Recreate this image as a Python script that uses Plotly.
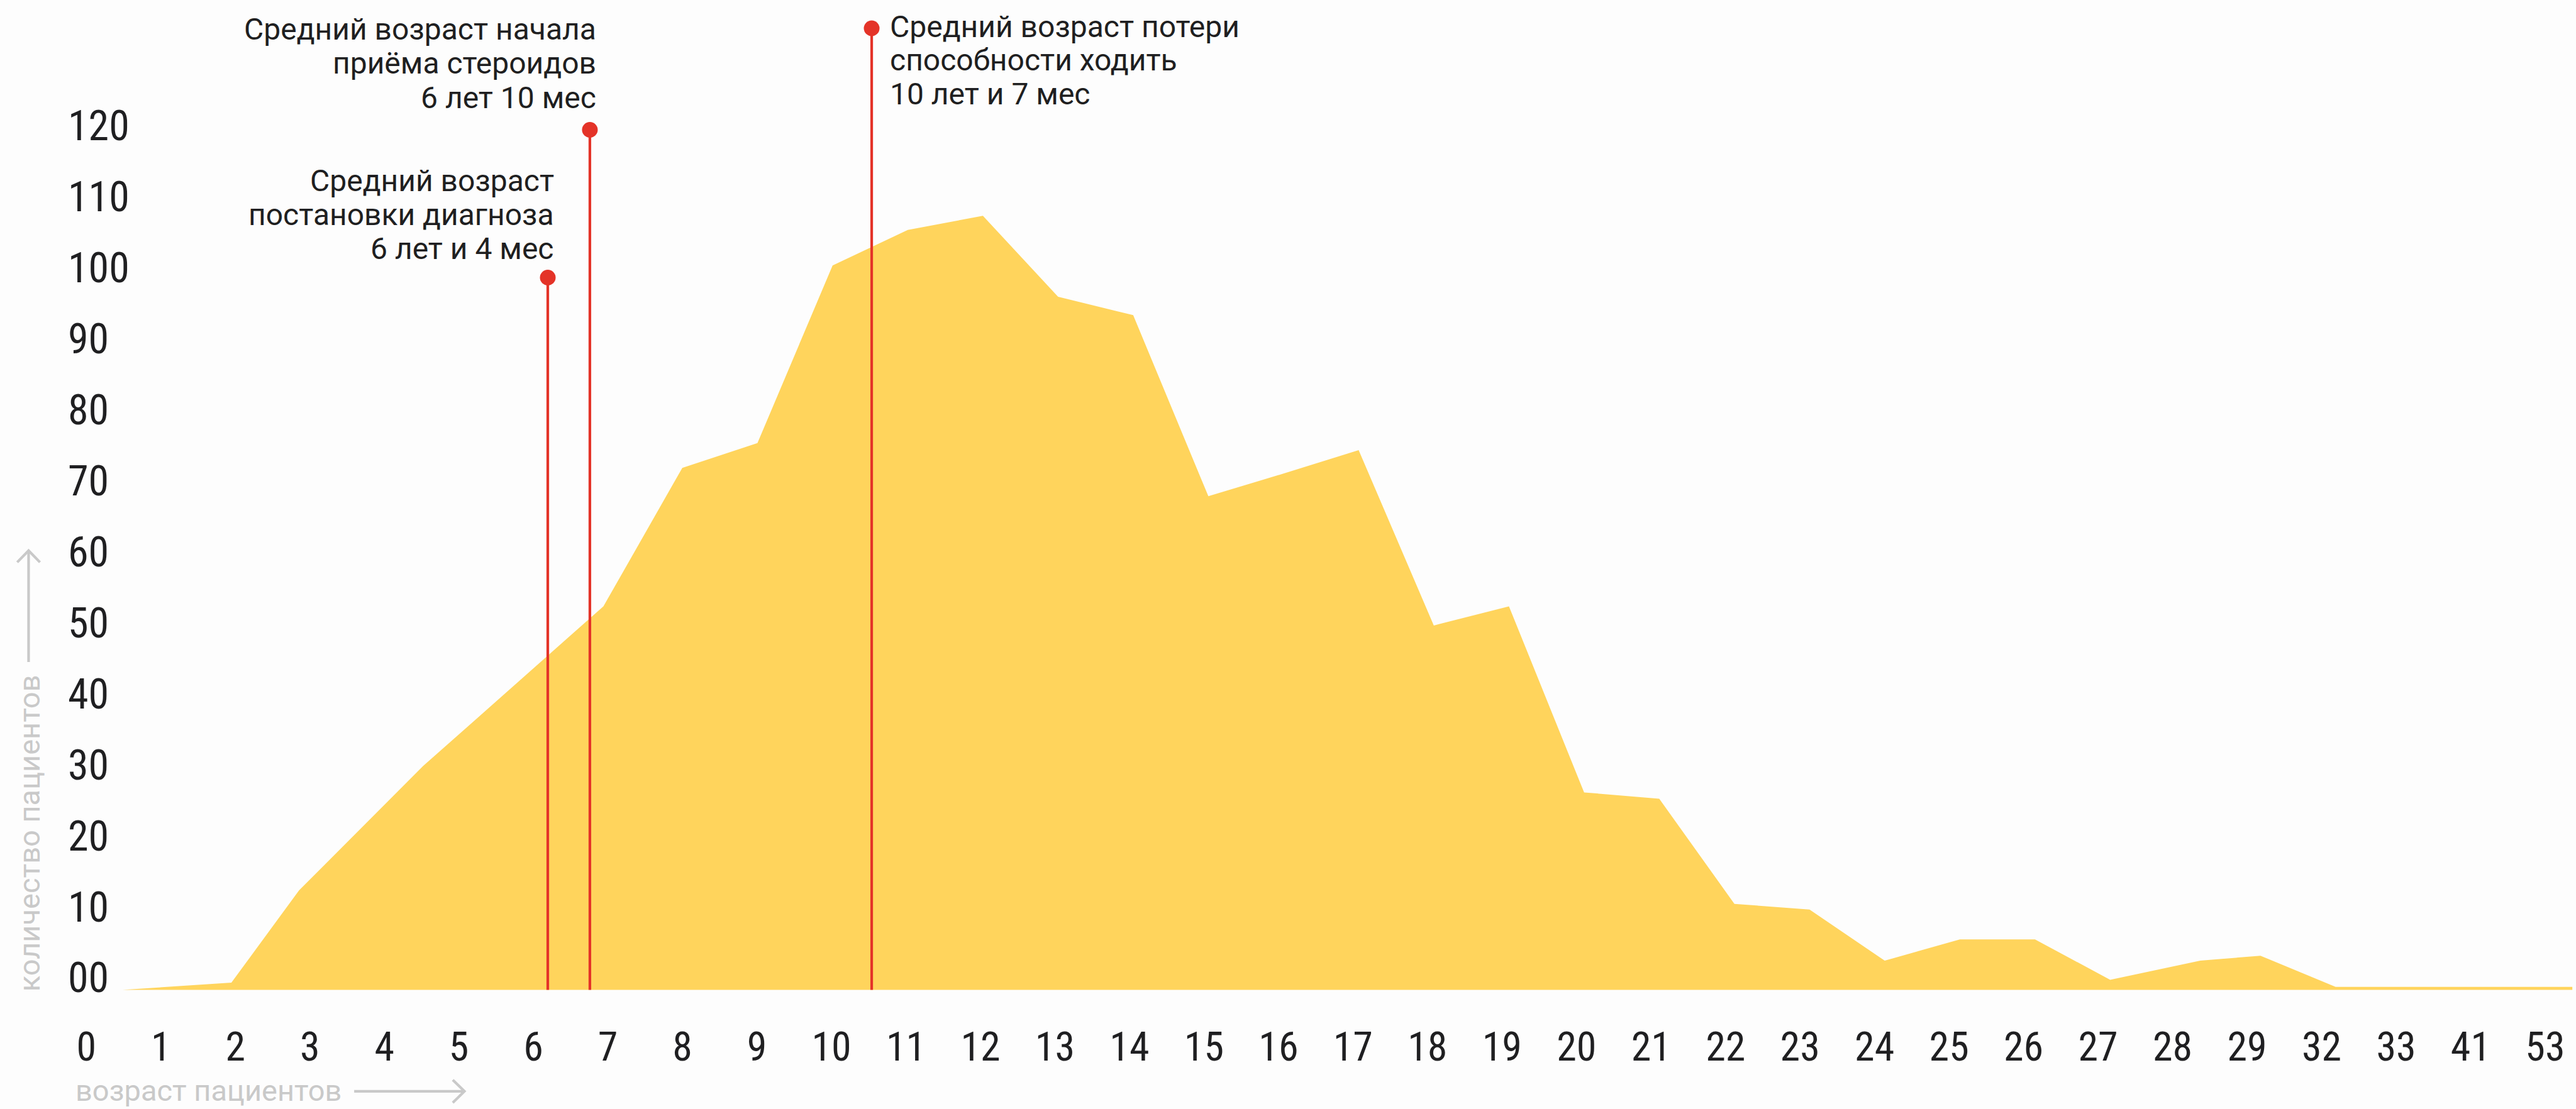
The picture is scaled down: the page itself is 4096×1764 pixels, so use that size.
import plotly.graph_objects as go

# ---------------- data ----------------
# x positions are in "axis slot" units (slot i = i-th age label)
age_labels = [str(i) for i in range(30)] + ["32", "33", "41", "53"]
age_slots = list(range(len(age_labels)))

area_x = [0.55, 2, 2.9, 4.55, 6.95, 8, 9, 10, 11, 12, 13, 14, 15, 16, 17, 18, 19,
          20, 21, 22, 23, 24, 25, 26, 27, 28.2, 29, 30, 33.15]
patients = [0, 1, 14, 31.5, 54, 73.5, 77, 102, 107, 109, 97.6, 95, 69.5, 72.7, 76,
            51.3, 54, 27.8, 26.9, 12.1, 11.3, 4.1, 7.1, 7.1, 1.4, 4.1, 4.8, 0.4, 0.4]

y_ticks = list(range(0, 121, 10))
y_ticktext = ["00"] + [str(v) for v in range(10, 121, 10)]

# marker lines: position (slot units), height of the dot
mark_x = [6.21, 6.77, 10.52]
mark_top = [100.3, 121.1, 135.4]
mark_text = [
    ["Средний возраст", "постановки диагноза", "6 лет и 4 мес"],
    ["Средний возраст начала", "приёма стероидов", "6 лет 10 мес"],
    ["Средний возраст потери", "способности ходить", "10 лет и 7 мес"],
]

x_title = "возраст пациентов"
y_title = "количество пациентов"

# ---------------- layout geometry ----------------
W, H = 4096, 1764
S = W / 4415.0
ML, MR, MT, MB = 93, 0, 0, 186
PW, PH = W - ML - MR, H - MT - MB

YELLOW = "#FFD45C"
RED = "#E43328"
TEXT = "#1F1F21"
GREY = "#C9C9C9"
BG = "#FDFDFD"


def full_to_paper_x(fx):
    return (fx * S - ML) / PW


def full_to_paper_y(fy):
    return (PH - fy * S) / PH


# data-axis mapping (reference px = 139 + 128.8*slot)
data_range = [(ML / S - 139) / 128.8, (W / S - 139) / 128.8]
# label-axis mapping (reference px = 148 + 127.7*slot)
label_range = [(ML / S - 148) / 127.7, (W / S - 148) / 127.7]
# y mapping (reference px = 1697 - 12.175*value)
y_range = [(1697 - PH / S) / 12.175, 1697 / 12.175]

fig = go.Figure()

fig.add_trace(go.Scatter(
    x=area_x, y=patients, mode="lines", fill="tozeroy",
    line=dict(width=0, color=YELLOW), fillcolor=YELLOW,
    hoverinfo="skip", showlegend=False, xaxis="x", yaxis="y"))

for mx, mt in zip(mark_x, mark_top):
    fig.add_trace(go.Scatter(
        x=[mx, mx], y=[0, mt], mode="lines",
        line=dict(color=RED, width=4.2), hoverinfo="skip",
        showlegend=False, xaxis="x", yaxis="y"))
fig.add_trace(go.Scatter(
    x=mark_x, y=mark_top, mode="markers",
    marker=dict(color=RED, size=25, line=dict(width=0)),
    hoverinfo="skip", showlegend=False, xaxis="x", yaxis="y"))

# invisible trace carrying the label axis
fig.add_trace(go.Scatter(
    x=age_slots, y=[0] * len(age_slots), mode="markers",
    marker=dict(opacity=0), hoverinfo="skip", showlegend=False,
    xaxis="x2", yaxis="y"))

tick_font = dict(family="Liberation Sans Narrow, Roboto Condensed, Arial Narrow, Roboto",
                 size=64, color=TEXT)

annotations = []
# text blocks: (anchor x in reference px, xanchor, baselines in reference px)
blocks = [
    (952, "right", [328, 386, 444]),
    (1023.5, "right", [68, 126, 185]),
    (1523, "left", [63, 121, 179]),
]
FS = 48
for lines, (ax, anc, bases) in zip(mark_text, blocks):
    for line, b in zip(lines, bases):
        annotations.append(dict(
            text=line, xref="paper", yref="paper",
            x=full_to_paper_x(ax), y=(PH - (b * S - 0.34 * FS)) / PH,
            xanchor=anc, yanchor="middle", showarrow=False,
            align=anc, font=dict(family="Roboto", size=FS, color=TEXT)))

TFS = 47
annotations.append(dict(
    text=x_title, xref="paper", yref="paper",
    x=full_to_paper_x(127.5), y=(PH - (1887 * S - 0.34 * TFS)) / PH,
    xanchor="left", yanchor="middle", showarrow=False,
    font=dict(family="Roboto", size=TFS, color=GREY)))
annotations.append(dict(
    text=y_title, xref="paper", yref="paper",
    x=full_to_paper_x(50), y=full_to_paper_y(1428),
    xanchor="center", yanchor="middle", textangle=-90, showarrow=False,
    font=dict(family="Roboto", size=TFS, color=GREY)))

shapes = []
# x-title arrow
ay = full_to_paper_y(1871)
shapes.append(dict(type="line", xref="paper", yref="paper",
                   x0=full_to_paper_x(607), x1=full_to_paper_x(794), y0=ay, y1=ay,
                   line=dict(color=GREY, width=4.2)))
shapes.append(dict(type="path", xref="paper", yref="paper",
                   path="M {a},{b} L {c},{d} L {e},{f}".format(
                       a=full_to_paper_x(776), b=full_to_paper_y(1871 - 19.5),
                       c=full_to_paper_x(796), d=ay,
                       e=full_to_paper_x(776), f=full_to_paper_y(1871 + 19.5)),
                   line=dict(color=GREY, width=4.2)))
# y-title arrow
axx = full_to_paper_x(49)
shapes.append(dict(type="line", xref="paper", yref="paper",
                   x0=axx, x1=axx, y0=full_to_paper_y(1135), y1=full_to_paper_y(946),
                   line=dict(color=GREY, width=4.2)))
shapes.append(dict(type="path", xref="paper", yref="paper",
                   path="M {a},{b} L {c},{d} L {e},{f}".format(
                       a=full_to_paper_x(49 - 19.5), b=full_to_paper_y(964),
                       c=axx, d=full_to_paper_y(944),
                       e=full_to_paper_x(49 + 19.5), f=full_to_paper_y(964)),
                   line=dict(color=GREY, width=4.2)))

fig.update_layout(
    width=W, height=H,
    margin=dict(l=ML, r=MR, t=MT, b=MB, pad=0),
    paper_bgcolor=BG, plot_bgcolor=BG,
    showlegend=False,
    xaxis=dict(range=data_range, visible=False, fixedrange=True),
    xaxis2=dict(range=label_range, overlaying="x", anchor="y", side="bottom",
                tickmode="array", tickvals=age_slots, ticktext=age_labels,
                tickfont=tick_font, showgrid=False, zeroline=False, showline=False,
                ticks="", ticklabelstandoff=44, ticklabeloverflow="allow"),
    yaxis=dict(range=y_range, tickmode="array", tickvals=y_ticks, ticktext=y_ticktext,
               tickfont=dict(tick_font, size=66), showgrid=False, zeroline=False,
               showline=False, ticks="", ticklabelposition="inside",
               ticklabelstandoff=12, ticklabelshift=-19, ticklabeloverflow="allow"),
    annotations=annotations,
    shapes=shapes,
)

fig.write_html("out.html")
